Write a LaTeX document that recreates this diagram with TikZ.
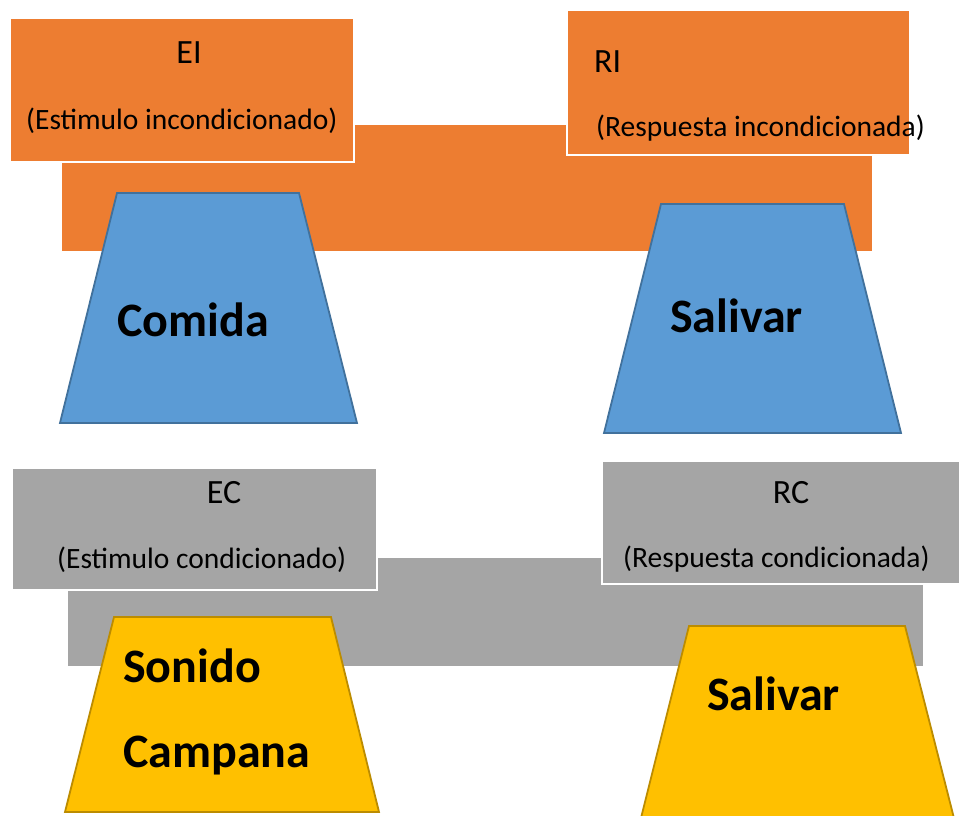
\documentclass[tikz,border=0pt]{standalone}
\usepackage{fontspec}
\setmainfont{Carlito}
\definecolor{orng}{HTML}{ED7D31}
\definecolor{bluef}{HTML}{5B9BD5}
\definecolor{bluel}{HTML}{41719C}
\definecolor{grayf}{HTML}{A5A5A5}
\definecolor{yelf}{HTML}{FFC000}
\definecolor{yell}{HTML}{BC8C00}
\begin{document}
\begin{tikzpicture}[x=1pt,y=-1pt,
  lbox/.style={draw=white, line width=2.5pt},
  bluetrap/.style={fill=bluef, draw=bluel, line width=1.8pt, line join=miter},
  yeltrap/.style={fill=yelf, draw=yell, line width=1.8pt, line join=miter},
  small/.style={inner sep=0pt, font=\fontsize{29.5}{35}\selectfont},
  title/.style={inner sep=0pt, font=\fontsize{34}{40}\selectfont},
  big/.style={inner sep=0pt, font=\fontsize{48}{58}\selectfont\bfseries}]
\useasboundingbox (0,0) rectangle (959,816);
\clip (0,0) rectangle (959,816);
\fill[white] (0,0) rectangle (959,816);
% upper section
\fill[orng] (62,125) rectangle (872,251);
\fill[orng, lbox] (10,18) rectangle (354,162);
\fill[orng, lbox] (567,10) rectangle (910,155);
\draw[bluetrap] (117,193) -- (299,193) -- (357,423) -- (60,423) -- cycle;
\draw[bluetrap] (661,204) -- (844,204) -- (901,433) -- (604,433) -- cycle;
% lower section
\fill[grayf] (68,558) rectangle (923,666);
\fill[grayf, lbox] (12,468) rectangle (377,590);
\fill[grayf, lbox] (602,461) rectangle (975,584);
\draw[yeltrap] (114,617) -- (331,617) -- (379,812) -- (65,812) -- cycle;
\draw[yeltrap] (689,626) -- (905,626) -- (957,830) -- (638,830) -- cycle;
% clipped text at top
\node[small, anchor=base west] (pl) at (312,-4) {(};
\node[small, anchor=base west] (pr) at (631,-4) {)};
% labels
\node[title, anchor=base] (ei) at (189,64) {EI};
\node[small, anchor=base west] (eit) at (26,129) {(Estimulo incondicionado)};
\node[title, anchor=base west] (ri) at (594,73) {RI};
\node[small, anchor=base west] (rit) at (596,136) {(Respuesta incondicionada)};
\node[title, anchor=base] (ec) at (224,503) {EC};
\node[small, anchor=base west] (ect) at (57,568) {(Estimulo condicionado)};
\node[title, anchor=base] (rc) at (791,503) {RC};
\node[small, anchor=base west] (rct) at (623,567) {(Respuesta condicionada)};
\node[big, anchor=base west] (comida) at (117,336) {Comida};
\node[big, anchor=base west] (sal1) at (670,332) {Salivar};
\node[big, anchor=base west] (sonido) at (123,682) {Sonido};
\node[big, anchor=base west] (campana) at (123,767) {Campana};
\node[big, anchor=base west] (sal2) at (707,710) {Salivar};
\end{tikzpicture}
\end{document}
